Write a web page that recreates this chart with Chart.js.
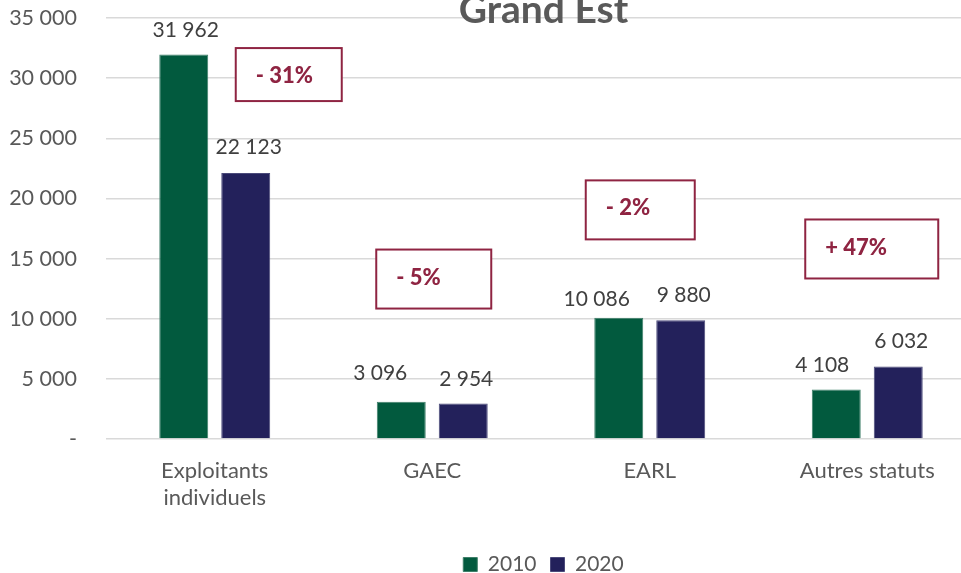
<!DOCTYPE html>
<html>
<head>
<meta charset="utf-8">
<script src="https://cdn.jsdelivr.net/npm/chart.js@4/dist/chart.umd.min.js"></script>
<style>
  html, body { margin: 0; padding: 0; background: #fff; overflow: hidden; }
  #wrap { position: absolute; left: 0; top: 0; width: 1087px; height: 573px; }
</style>
</head>
<body>
<div id="wrap"><canvas id="c"></canvas></div>
<script>
// ---- data ----
const chartTitle = 'Grand Est';
const categories = [['Exploitants', 'individuels'], 'GAEC', 'EARL', 'Autres statuts'];
const seriesNames = ['2010', '2020'];
const values2010 = [31962, 3096, 10086, 4108];
const values2020 = [22123, 2954, 9880, 6032];
const changeLabels = ['- 31%', '- 5%', '- 2%', '+ 47%'];
const yMin = 0, yMax = 35000, yStep = 5000;

// ---- placement of the change boxes (value units / px offsets from category centre) ----
const boxPlacement = [
  { dx: 21, top: 32500, w: 106, h: 53 },
  { dx: -56, top: 15750, w: 115, h: 59 },
  { dx: -64, top: 21500, w: 109, h: 59 },
  { dx: -62, top: 18250, w: 133, h: 59 }
];
// manual nudges of the value labels (px), per dataset and category
const labelNudge = [
  [{ dx: 2, dy: 0 }, { dx: -21, dy: -4 }, { dx: -22, dy: 6 }, { dx: -14, dy: 0 }],
  [{ dx: 3, dy: -1 }, { dx: 3, dy: 1 }, { dx: 3, dy: 0 }, { dx: 3, dy: 0 }]
];

const FONT = 'Lato, "Open Sans", sans-serif';
const fmt = n => String(n).replace(/\B(?=(\d{3})+(?!\d))/g, ' ');

const valueLabels = {
  id: 'valueLabels',
  afterDatasetsDraw(chart) {
    const ctx = chart.ctx;
    ctx.save();
    ctx.font = '21px ' + FONT;
    ctx.fillStyle = '#404040';
    ctx.textAlign = 'center';
    ctx.textBaseline = 'alphabetic';
    chart.data.datasets.forEach((ds, di) => {
      chart.getDatasetMeta(di).data.forEach((bar, i) => {
        const n = labelNudge[di][i];
        ctx.fillText(fmt(ds.data[i]), bar.x + n.dx, bar.y - 18 + n.dy);
      });
    });
    ctx.restore();
  }
};

const changeBoxes = {
  id: 'changeBoxes',
  afterDatasetsDraw(chart) {
    const ctx = chart.ctx;
    const xs = chart.scales.x, ys = chart.scales.y;
    ctx.save();
    changeLabels.forEach((t, i) => {
      const p = boxPlacement[i];
      const left = xs.getPixelForValue(i) + p.dx;
      const top = ys.getPixelForValue(p.top);
      ctx.fillStyle = '#ffffff';
      ctx.fillRect(left, top, p.w, p.h);
      ctx.strokeStyle = '#8F2442';
      ctx.lineWidth = 2;
      ctx.strokeRect(left, top, p.w, p.h);
      ctx.fillStyle = '#8F2442';
      ctx.font = '900 22px ' + FONT;
      ctx.textAlign = 'left';
      ctx.textBaseline = 'middle';
      ctx.fillText(t, left + 20, top + 28);
    });
    ctx.restore();
  }
};

const titlePlugin = {
  id: 'cutTitle',
  afterDraw(chart) {
    const ctx = chart.ctx;
    ctx.save();
    ctx.font = 'bold 39px ' + FONT;
    ctx.fillStyle = '#595959';
    ctx.textAlign = 'center';
    ctx.textBaseline = 'alphabetic';
    ctx.fillText(chartTitle, chart.width / 2, 23);
    ctx.restore();
  }
};

new Chart(document.getElementById('c'), {
  type: 'bar',
  data: {
    labels: categories,
    datasets: [
      { label: seriesNames[0], data: values2010, backgroundColor: '#025A3E', borderColor: '#3F7F69', borderWidth: 1 },
      { label: seriesNames[1], data: values2020, backgroundColor: '#23215B', borderColor: '#4B4A7A', borderWidth: 1 }
    ]
  },
  options: {
    responsive: true,
    maintainAspectRatio: false,
    animation: false,
    layout: { padding: { left: 0, right: 0, top: 18, bottom: -12 } },
    datasets: { bar: { categoryPercentage: 0.57, barPercentage: 0.79 } },
    scales: {
      x: {
        grid: { display: false },
        border: { display: false },
        ticks: { color: '#595959', font: { family: FONT, size: 22, lineHeight: 1.25 }, padding: 10, maxRotation: 0, autoSkip: false },
        afterFit(s) { s.height = 101; s.paddingLeft = 0; s.paddingRight = 0; }
      },
      y: {
        min: yMin, max: yMax,
        grid: { color: '#D9D9D9', lineWidth: 1.5, drawTicks: false },
        border: { display: false },
        ticks: {
          stepSize: yStep,
          color: '#595959',
          font: { family: FONT, size: 21.5 },
          padding: 29,
          callback: v => v === 0 ? '-' : fmt(v)
        },
        afterFit(s) { s.width = 106; s.paddingTop = 0; s.paddingBottom = 0; }
      },
      spacer: {
        type: 'linear',
        position: 'right',
        display: true,
        grid: { display: false, drawTicks: false },
        border: { display: false },
        ticks: { display: false },
        afterFit(s) { s.width = 111; s.paddingTop = 0; s.paddingBottom = 0; }
      }
    },
    plugins: {
      legend: {
        position: 'bottom',
        labels: { color: '#595959', font: { family: FONT, size: 21 }, boxWidth: 14, boxHeight: 14, padding: 14 }
      },
      tooltip: { enabled: false },
      title: { display: false }
    }
  },
  plugins: [valueLabels, changeBoxes, titlePlugin]
});
</script>
</body>
</html>
